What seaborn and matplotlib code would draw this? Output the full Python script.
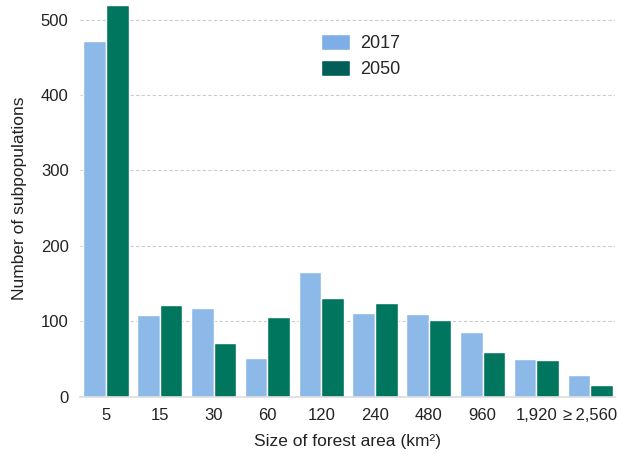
import numpy as np
import pandas as pd
import seaborn as sns
import matplotlib.pyplot as plt
from matplotlib.patches import Patch

# Data
sizes = ["5", "15", "30", "60", "120", "240", "480", "960", "1,920", "\u2265\u20092,560"]
count_2017 = [471, 108, 118, 51, 165, 111, 110, 86, 50, 29]
count_2050 = [520, 122, 71, 106, 131, 124, 102, 60, 49, 16]
years = ["2017", "2050"]

bar_colors = ["#8db9e8", "#00765f"]
legend_colors = ["#7daee8", "#005f59"]

df = pd.DataFrame({
    "size": sizes * 2,
    "count": count_2017 + count_2050,
    "year": [years[0]] * len(sizes) + [years[1]] * len(sizes),
})

sns.set_theme(style="white")
plt.rcParams["font.family"] = ["Liberation Sans", "DejaVu Sans"]

fig = plt.figure(figsize=(6.18, 4.54), dpi=100)
ax = fig.add_axes([0.129, 0.126, 0.866, 0.874])

sns.barplot(data=df, x="size", y="count", hue="year", order=sizes,
            hue_order=years, palette=bar_colors, width=0.84,
            edgecolor="white", linewidth=1, saturation=1, ax=ax)

ax.set_ylim(0, 526)
ax.set_xlim(-0.49, len(sizes) - 0.54)
ax.set_yticks([0, 100, 200, 300, 400, 500])
ax.yaxis.grid(True, linestyle=(0, (3, 2)), color="#cccccc", linewidth=0.8)
ax.set_axisbelow(True)
for s in ["top", "right", "left"]:
    ax.spines[s].set_visible(False)
ax.spines["bottom"].set_color("#dddddd")
ax.spines["bottom"].set_linewidth(1.2)
ax.tick_params(axis="both", length=0, labelsize=12, colors="#222222", pad=8)

ax.set_xlabel("Size of forest area (km\u00b2)", fontsize=12.5, color="#222222", labelpad=8)
ax.set_ylabel("Number of subpopulations", fontsize=12.5, color="#222222", labelpad=10)

handles = [Patch(facecolor=c, edgecolor="white") for c in legend_colors]
ax.legend(handles, years, loc="upper left", bbox_to_anchor=(0.42, 0.955),
          frameon=False, fontsize=13, handlelength=1.6, handleheight=1.0,
          labelspacing=0.4, handletextpad=0.6)

fig.savefig("out.png", dpi=100)
